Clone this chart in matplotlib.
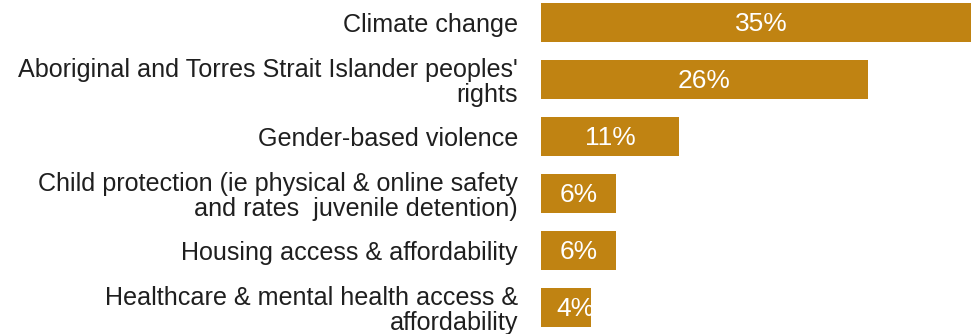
import matplotlib
matplotlib.use("Agg")
import matplotlib.pyplot as plt

plt.rcParams["font.family"] = ["Liberation Sans", "DejaVu Sans"]

categories = [
    "Climate change",
    "Aboriginal and Torres Strait Islander peoples'\nrights",
    "Gender-based violence",
    "Child protection (ie physical & online safety\nand rates  juvenile detention)",
    "Housing access & affordability",
    "Healthcare & mental health access &\naffordability",
]
values = [35, 26, 11, 6, 6, 4]

bar_color = "#C08312"
text_color = "#1F1F1F"

fig = plt.figure(figsize=(9.71, 3.34), dpi=100)
ax = fig.add_axes([541 / 971, 0, 430 / 971, 1])

ypos = list(range(len(values)))
ax.barh(ypos, values, height=0.684, color=bar_color)

# value labels sit in the middle of each bar (short bars get a small minimum offset)
for y, v in zip(ypos, values):
    ax.text(max(v / 2, 2.7), y + 0.03, f"{v}%", color="white", fontsize=19,
            ha="center", va="center")

ax.set_xlim(0, 430 / 12.58)
ax.set_ylim(5 + 26.5 / 57, -22.5 / 57)

ax.set_yticks(ypos)
ax.set_yticklabels(categories, fontsize=18.1, color=text_color,
                   linespacing=1.06, ha="right")
ax.tick_params(axis="y", length=0, pad=16.5)
ax.set_xticks([])
for s in ax.spines.values():
    s.set_visible(False)

fig.savefig("out.png", dpi=100)
